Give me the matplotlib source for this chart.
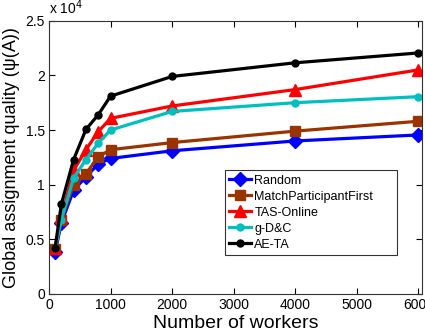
import matplotlib
matplotlib.use("Agg")
import matplotlib.pyplot as plt
from matplotlib.ticker import FuncFormatter, MultipleLocator

plt.rcParams['font.family'] = ['Liberation Sans', 'DejaVu Sans']

workers = [100, 200, 400, 600, 800, 1000, 2000, 4000, 6000]
random_q = [3800, 6500, 9500, 10700, 11900, 12400, 13100, 14000, 14550]
mpf_q = [4100, 6800, 10000, 11000, 12550, 13200, 13850, 14900, 15800]
tas_q = [4200, 7000, 11300, 13200, 14850, 16070, 17200, 18700, 20500]
gdc_q = [4200, 6800, 10600, 12300, 13800, 15000, 16700, 17500, 18050]
aeta_q = [4250, 8200, 12300, 15050, 16400, 18100, 19900, 21150, 22050]

series = [
    ("Random", random_q, "#0000ff", "D", 7),
    ("MatchParticipantFirst", mpf_q, "#993300", "s", 7.5),
    ("TAS-Online", tas_q, "#ff0000", "^", 9),
    ("g-D&C", gdc_q, "#00bfbf", "o", 5),
    ("AE-TA", aeta_q, "#000000", "o", 5),
]

fig = plt.figure(figsize=(4.25, 3.35), dpi=100)
ax = fig.add_axes([0.1153, 0.1224, 0.8777, 0.8158])

for name, vals, color, marker, ms in series:
    ax.plot(workers, vals, color=color, marker=marker, markersize=ms,
            linewidth=2.3, label=name)

ax.set_xlim(0, 6060)
ax.set_ylim(0, 25000)
ax.xaxis.set_major_locator(MultipleLocator(1000))
ax.yaxis.set_major_locator(MultipleLocator(5000))
ax.yaxis.set_major_formatter(FuncFormatter(lambda v, p: "%g" % (v / 1e4)))
ax.tick_params(direction="in", top=True, right=True, labelsize=10,
               length=4, width=0.8, pad=3)
for s in ax.spines.values():
    s.set_linewidth(0.8)
    s.set_color("#333333")

ax.text(0.0, 1.012, r"x 10$^{4}$", transform=ax.transAxes, fontsize=10,
        ha="left", va="bottom")

ax.set_xlabel("Number of workers", fontsize=14, labelpad=2)
ax.set_ylabel("Global assignment quality (\u03c8(A))", fontsize=13, labelpad=4)

leg = ax.legend(loc="lower left", bbox_to_anchor=(0.472, 0.143, 0.461, 0.30),
                mode="expand", fontsize=9, frameon=True, fancybox=False,
                borderpad=0.35, labelspacing=0.32, handlelength=1.7,
                handletextpad=0.3, borderaxespad=0)
leg.get_frame().set_edgecolor("black")
leg.get_frame().set_linewidth(0.8)

fig.savefig("out.png", dpi=100)
